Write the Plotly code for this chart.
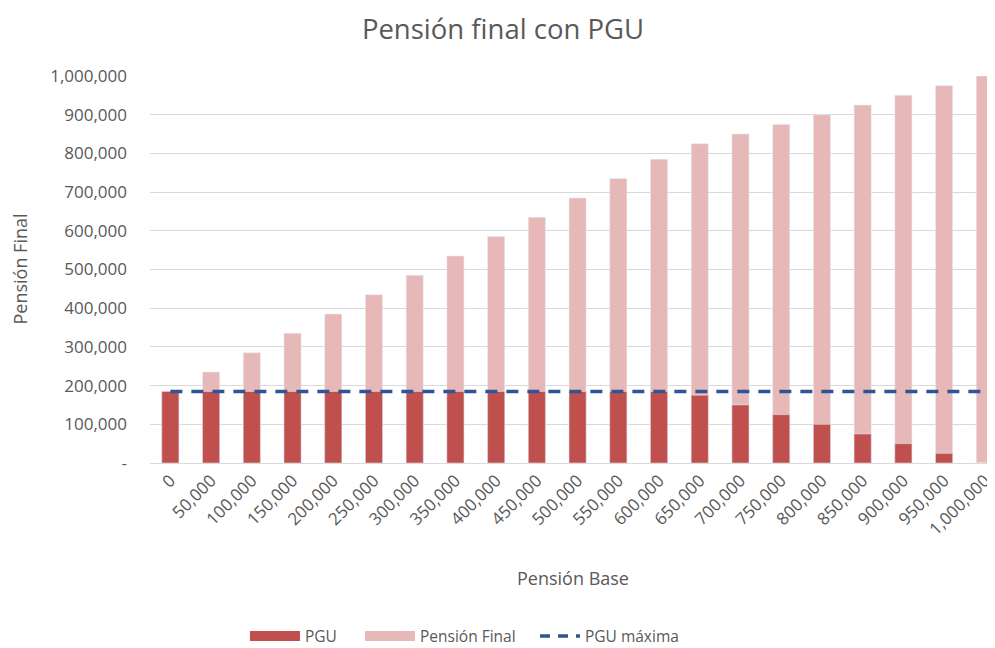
import plotly.graph_objects as go

categories = ["0", "50,000", "100,000", "150,000", "200,000", "250,000", "300,000",
              "350,000", "400,000", "450,000", "500,000", "550,000", "600,000",
              "650,000", "700,000", "750,000", "800,000", "850,000", "900,000",
              "950,000", "1,000,000"]
pgu = [185000] * 13 + [175000, 150000, 125000, 100000, 75000, 50000, 25000, 0]
pension_final = [185000, 235000, 285000, 335000, 385000, 435000, 485000, 535000,
                 585000, 635000, 685000, 735000, 785000, 825000, 850000, 875000,
                 900000, 925000, 950000, 975000, 1000000]
pgu_max = [185000] * 21
y_tickvals = [0, 100000, 200000, 300000, 400000, 500000, 600000, 700000, 800000, 900000, 1000000]
y_ticktext = ["-", "100,000", "200,000", "300,000", "400,000", "500,000", "600,000",
              "700,000", "800,000", "900,000", "1,000,000"]

FONT = "Open Sans, Liberation Sans, sans-serif"
GREY = "#595959"
C_PGU = "#C0504D"
C_FINAL = "#E6B9B8"
C_LINE = "#2F5597"

fig = go.Figure()
fig.add_trace(go.Bar(x=categories, y=pension_final, name="Pensión Final",
                     marker_color=C_FINAL, width=0.42, showlegend=False))
fig.add_trace(go.Bar(x=categories, y=pgu, name="PGU", marker_color=C_PGU,
                     width=0.42, showlegend=False))
fig.add_trace(go.Scatter(x=categories, y=pgu_max, name="PGU máxima", mode="lines",
                         line=dict(color=C_LINE, width=3.5, dash="12px,9px"),
                         showlegend=False))
# legend entries (wide swatches like the original), one legend each for exact spacing
fig.add_trace(go.Scatter(x=[None], y=[None], name="PGU", mode="lines",
                         line=dict(color=C_PGU, width=11), legend="legend"))
fig.add_trace(go.Scatter(x=[None], y=[None], name="Pensión Final", mode="lines",
                         line=dict(color=C_FINAL, width=11), legend="legend2"))
fig.add_trace(go.Scatter(x=[None], y=[None], name="PGU máxima", mode="lines",
                         line=dict(color=C_LINE, width=3.5, dash="10px,8px"),
                         legend="legend3"))

leg_common = dict(orientation="h", xanchor="left", y=-0.448, yanchor="middle",
                  font=dict(size=15.5, color=GREY), bgcolor="rgba(0,0,0,0)")

fig.update_layout(
    width=987, height=640,
    barmode="overlay",
    paper_bgcolor="white", plot_bgcolor="white",
    margin=dict(l=142, r=0, t=68, b=185, autoexpand=False),
    font=dict(family=FONT, color=GREY, size=12),
    title=dict(text="Pensión final con PGU", x=0.5015, xanchor="center", y=0.966,
               yanchor="middle", font=dict(size=27.5, color=GREY, family=FONT)),
    legend=dict(x=0.1124, itemwidth=50, **leg_common),
    legend2=dict(x=0.2485, itemwidth=50, **leg_common),
    legend3=dict(x=0.4556, itemwidth=40, **leg_common),
    showlegend=True,
    annotations=[
        dict(text="Pensión Base", xref="paper", yref="paper", x=0.5, y=-0.297,
             xanchor="center", yanchor="middle", showarrow=False,
             font=dict(size=18, color=GREY)),
        dict(text="Pensión Final", xref="paper", yref="paper", x=-0.155, y=0.5,
             xanchor="center", yanchor="middle", showarrow=False, textangle=-90,
             font=dict(size=18, color=GREY)),
    ],
)
fig.update_xaxes(range=[-0.5, 20.25], tickangle=-45, showgrid=False,
                 showline=True, linecolor="#D9D9D9", linewidth=1, ticks="",
                 tickfont=dict(size=17, color=GREY))
fig.update_yaxes(range=[0, 1000000], tickvals=y_tickvals, ticktext=y_ticktext,
                 showgrid=True, gridcolor="#D9D9D9", gridwidth=1, zeroline=False,
                 ticks="", tickfont=dict(size=17, color=GREY), ticklabelstandoff=22)

fig.write_html("out.html")
